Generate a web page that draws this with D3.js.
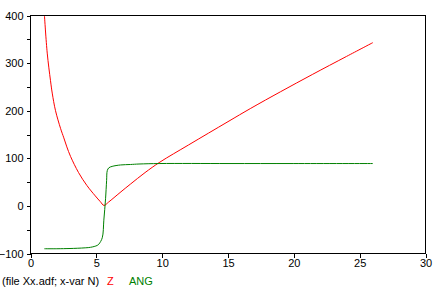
<!DOCTYPE html>
<html>
<head>
<meta charset="utf-8">
<script src="https://cdn.jsdelivr.net/npm/d3@7"></script>
<style>
  html, body { margin: 0; padding: 0; background: #fff; }
  svg { display: block; font-family: "Liberation Sans", Arial, sans-serif; }
</style>
</head>
<body>
<div id="chart"></div>
<script>
// values
const nZ = [1.06, 1.27, 1.52, 1.65, 1.9, 2.28, 2.53, 2.76, 3.04, 3.65, 4.28, 4.92, 5.30, 5.58, 5.93, 6.8, 7.6, 8.7, 9.83, 12, 15, 16.73, 19, 21.4, 24, 26];
const z  = [400, 321, 263, 237, 200, 163, 143, 124, 104, 70, 43, 21, 9, 1, 8, 28, 46, 70, 92, 128, 177, 205, 240, 276, 314, 343];

const nAng = [1.05, 2, 3, 3.55, 4.2, 4.56, 5.07, 5.2, 5.45, 5.57, 5.7, 5.78, 5.83, 5.95, 6.2, 6.84, 7.6, 8.24, 9.83, 15, 20, 26];
const ang  = [-90, -90, -89.5, -89, -88, -87, -83, -80, -67, -30, 15, 53, 74, 80, 83, 86, 87, 88, 89, 89, 89, 89];

const xTicks = [0, 5, 10, 15, 20, 25, 30];
const yTicks = [-100, 0, 100, 200, 300, 400];
const yMinor = [-50, 50, 150, 250, 350];

const legendFile = "(file Xx.adf; x-var N)";
const series = [
  { name: "Z",   n: nZ,   v: z,   color: "#ff0000" },
  { name: "ANG", n: nAng, v: ang, color: "#008000" }
];

const W = 434, H = 291;
const svg = d3.select("#chart").append("svg")
  .attr("width", W)
  .attr("height", H);

const x = d3.scaleLinear().domain([0, 30]).range([30.5, 425.5]);
const y = d3.scaleLinear().domain([-100, 400]).range([253.5, 15.5]);

// clip to the frame
svg.append("defs").append("clipPath").attr("id", "clip")
  .append("rect")
  .attr("x", 30).attr("y", 15)
  .attr("width", 396).attr("height", 239);

const layer = svg.append("g").attr("clip-path", "url(#clip)");

series.forEach(s => {
  const pts = s.n.map((d, i) => [d, s.v[i]]);
  layer.append("path")
    .datum(pts)
    .attr("fill", "none")
    .attr("stroke", s.color)
    .attr("stroke-width", 1)
    .attr("d", d3.line()
      .x(d => x(d[0]))
      .y(d => y(d[1]))
      .curve(d3.curveCatmullRom.alpha(0.5)));
});

// frame
svg.append("rect")
  .attr("x", 30.5).attr("y", 15.5)
  .attr("width", 395).attr("height", 238)
  .attr("fill", "none")
  .attr("stroke", "#000")
  .attr("shape-rendering", "crispEdges");

// x axis
svg.append("g")
  .attr("transform", "translate(0,253.5)")
  .call(d3.axisBottom(x).tickValues(xTicks).tickSize(4).tickPadding(2).tickFormat(d3.format("d")));

// y axis
svg.append("g")
  .attr("transform", "translate(30.5,0)")
  .call(d3.axisLeft(y).tickValues(yTicks).tickSize(4).tickPadding(3).tickFormat(d3.format("d")));

svg.append("g")
  .attr("transform", "translate(30.5,0)")
  .call(d3.axisLeft(y).tickValues(yMinor).tickSize(4).tickFormat(""));

svg.selectAll(".domain").remove();
svg.selectAll(".tick line").attr("stroke", "#000").attr("shape-rendering", "crispEdges");
svg.selectAll(".tick text")
  .attr("fill", "#000")
  .style("font-size", "11px")
  .style("font-family", "'Liberation Sans', Arial, sans-serif");

// legend
const legend = svg.append("text")
  .attr("x", 2)
  .attr("y", 285)
  .style("font-size", "11px");
legend.append("tspan").attr("fill", "#000").text(legendFile);
legend.append("tspan").attr("x", 107).attr("fill", series[0].color).text(series[0].name);
legend.append("tspan").attr("x", 129).attr("fill", series[1].color).text(series[1].name);
</script>
</body>
</html>
